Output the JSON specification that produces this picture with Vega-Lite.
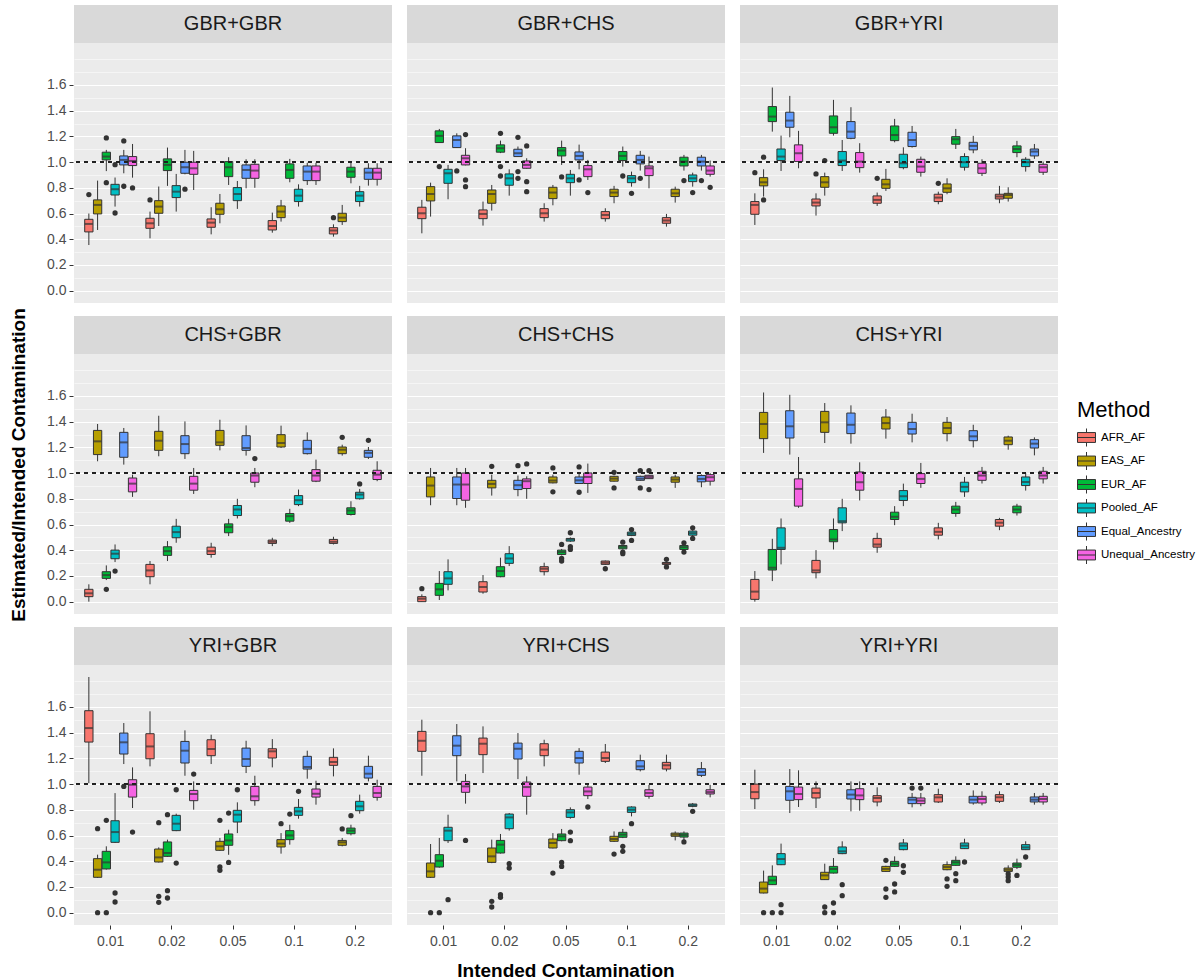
{
"$schema": "https://vega.github.io/schema/vega-lite/v6.json",
"background": "white",
"padding": {"left": 9, "top": 5, "right": 5, "bottom": 5},
"data": {"values": [
{"a":"GBR","b":"GBR","c":"0.01","m":"AFR_AF","lo":0.355,"q1":0.457,"md":0.519,"q3":0.555,"hi":0.6},
{"a":"GBR","b":"GBR","c":"0.01","m":"EAS_AF","lo":0.472,"q1":0.597,"md":0.667,"q3":0.706,"hi":0.856},
{"a":"GBR","b":"GBR","c":"0.01","m":"EUR_AF","lo":0.93,"q1":1.017,"md":1.043,"q3":1.077,"hi":1.095},
{"a":"GBR","b":"GBR","c":"0.01","m":"Pooled_AF","lo":0.654,"q1":0.744,"md":0.789,"q3":0.827,"hi":0.88},
{"a":"GBR","b":"GBR","c":"0.01","m":"Equal_Ancestry","lo":0.913,"q1":0.978,"md":1.017,"q3":1.048,"hi":1.095},
{"a":"GBR","b":"GBR","c":"0.01","m":"Unequal_Ancestry","lo":0.879,"q1":0.973,"md":1.009,"q3":1.043,"hi":1.141},
{"a":"GBR","b":"GBR","c":"0.02","m":"AFR_AF","lo":0.407,"q1":0.485,"md":0.524,"q3":0.563,"hi":0.615},
{"a":"GBR","b":"GBR","c":"0.02","m":"EAS_AF","lo":0.503,"q1":0.602,"md":0.654,"q3":0.7,"hi":0.81},
{"a":"GBR","b":"GBR","c":"0.02","m":"EUR_AF","lo":0.815,"q1":0.934,"md":0.978,"q3":1.025,"hi":1.113},
{"a":"GBR","b":"GBR","c":"0.02","m":"Pooled_AF","lo":0.615,"q1":0.724,"md":0.77,"q3":0.817,"hi":0.908},
{"a":"GBR","b":"GBR","c":"0.02","m":"Equal_Ancestry","lo":0.905,"q1":0.913,"md":0.96,"q3":0.999,"hi":1.095},
{"a":"GBR","b":"GBR","c":"0.02","m":"Unequal_Ancestry","lo":0.783,"q1":0.905,"md":0.952,"q3":0.999,"hi":1.087},
{"a":"GBR","b":"GBR","c":"0.05","m":"AFR_AF","lo":0.438,"q1":0.493,"md":0.529,"q3":0.558,"hi":0.649},
{"a":"GBR","b":"GBR","c":"0.05","m":"EAS_AF","lo":0.524,"q1":0.594,"md":0.633,"q3":0.68,"hi":0.752},
{"a":"GBR","b":"GBR","c":"0.05","m":"EUR_AF","lo":0.822,"q1":0.887,"md":0.96,"q3":1.004,"hi":1.038},
{"a":"GBR","b":"GBR","c":"0.05","m":"Pooled_AF","lo":0.636,"q1":0.7,"md":0.752,"q3":0.802,"hi":0.853},
{"a":"GBR","b":"GBR","c":"0.05","m":"Equal_Ancestry","lo":0.796,"q1":0.874,"md":0.939,"q3":0.978,"hi":1.022},
{"a":"GBR","b":"GBR","c":"0.05","m":"Unequal_Ancestry","lo":0.8,"q1":0.874,"md":0.934,"q3":0.983,"hi":1.022},
{"a":"GBR","b":"GBR","c":"0.1","m":"AFR_AF","lo":0.451,"q1":0.472,"md":0.503,"q3":0.545,"hi":0.607},
{"a":"GBR","b":"GBR","c":"0.1","m":"EAS_AF","lo":0.537,"q1":0.568,"md":0.615,"q3":0.659,"hi":0.706},
{"a":"GBR","b":"GBR","c":"0.1","m":"EUR_AF","lo":0.843,"q1":0.874,"md":0.939,"q3":0.986,"hi":1.025},
{"a":"GBR","b":"GBR","c":"0.1","m":"Pooled_AF","lo":0.654,"q1":0.693,"md":0.739,"q3":0.789,"hi":0.827},
{"a":"GBR","b":"GBR","c":"0.1","m":"Equal_Ancestry","lo":0.822,"q1":0.856,"md":0.926,"q3":0.97,"hi":0.996},
{"a":"GBR","b":"GBR","c":"0.1","m":"Unequal_Ancestry","lo":0.822,"q1":0.856,"md":0.926,"q3":0.97,"hi":0.996},
{"a":"GBR","b":"GBR","c":"0.2","m":"AFR_AF","lo":0.42,"q1":0.441,"md":0.467,"q3":0.49,"hi":0.516},
{"a":"GBR","b":"GBR","c":"0.2","m":"EAS_AF","lo":0.511,"q1":0.537,"md":0.568,"q3":0.602,"hi":0.667},
{"a":"GBR","b":"GBR","c":"0.2","m":"EUR_AF","lo":0.835,"q1":0.882,"md":0.926,"q3":0.96,"hi":0.999},
{"a":"GBR","b":"GBR","c":"0.2","m":"Pooled_AF","lo":0.654,"q1":0.693,"md":0.739,"q3":0.77,"hi":0.815},
{"a":"GBR","b":"GBR","c":"0.2","m":"Equal_Ancestry","lo":0.817,"q1":0.866,"md":0.918,"q3":0.952,"hi":0.991},
{"a":"GBR","b":"GBR","c":"0.2","m":"Unequal_Ancestry","lo":0.817,"q1":0.866,"md":0.918,"q3":0.952,"hi":0.991},
{"a":"GBR","b":"CHS","c":"0.01","m":"AFR_AF","lo":0.446,"q1":0.56,"md":0.602,"q3":0.649,"hi":0.706},
{"a":"GBR","b":"CHS","c":"0.01","m":"EAS_AF","lo":0.576,"q1":0.698,"md":0.752,"q3":0.809,"hi":0.84},
{"a":"GBR","b":"CHS","c":"0.01","m":"EUR_AF","lo":1.15,"q1":1.152,"md":1.204,"q3":1.243,"hi":1.258},
{"a":"GBR","b":"CHS","c":"0.01","m":"Pooled_AF","lo":0.711,"q1":0.835,"md":0.913,"q3":0.944,"hi":0.978},
{"a":"GBR","b":"CHS","c":"0.01","m":"Equal_Ancestry","lo":1.11,"q1":1.113,"md":1.172,"q3":1.204,"hi":1.224},
{"a":"GBR","b":"CHS","c":"0.01","m":"Unequal_Ancestry","lo":0.975,"q1":0.978,"md":1.03,"q3":1.053,"hi":1.108},
{"a":"GBR","b":"CHS","c":"0.02","m":"AFR_AF","lo":0.506,"q1":0.56,"md":0.597,"q3":0.628,"hi":0.693},
{"a":"GBR","b":"CHS","c":"0.02","m":"EAS_AF","lo":0.623,"q1":0.68,"md":0.752,"q3":0.783,"hi":0.822},
{"a":"GBR","b":"CHS","c":"0.02","m":"EUR_AF","lo":1.07,"q1":1.077,"md":1.108,"q3":1.134,"hi":1.167},
{"a":"GBR","b":"CHS","c":"0.02","m":"Pooled_AF","lo":0.739,"q1":0.82,"md":0.874,"q3":0.908,"hi":0.944},
{"a":"GBR","b":"CHS","c":"0.02","m":"Equal_Ancestry","lo":1.04,"q1":1.043,"md":1.069,"q3":1.1,"hi":1.121},
{"a":"GBR","b":"CHS","c":"0.02","m":"Unequal_Ancestry","lo":0.95,"q1":0.952,"md":0.978,"q3":1.009,"hi":1.03},
{"a":"GBR","b":"CHS","c":"0.05","m":"AFR_AF","lo":0.537,"q1":0.568,"md":0.602,"q3":0.638,"hi":0.68},
{"a":"GBR","b":"CHS","c":"0.05","m":"EAS_AF","lo":0.664,"q1":0.716,"md":0.763,"q3":0.804,"hi":0.822},
{"a":"GBR","b":"CHS","c":"0.05","m":"EUR_AF","lo":0.978,"q1":1.048,"md":1.09,"q3":1.113,"hi":1.167},
{"a":"GBR","b":"CHS","c":"0.05","m":"Pooled_AF","lo":0.739,"q1":0.84,"md":0.874,"q3":0.905,"hi":0.939},
{"a":"GBR","b":"CHS","c":"0.05","m":"Equal_Ancestry","lo":0.944,"q1":1.017,"md":1.048,"q3":1.079,"hi":1.136},
{"a":"GBR","b":"CHS","c":"0.05","m":"Unequal_Ancestry","lo":0.861,"q1":0.887,"md":0.944,"q3":0.973,"hi":1.017},
{"a":"GBR","b":"CHS","c":"0.1","m":"AFR_AF","lo":0.537,"q1":0.56,"md":0.589,"q3":0.615,"hi":0.641},
{"a":"GBR","b":"CHS","c":"0.1","m":"EAS_AF","lo":0.68,"q1":0.732,"md":0.763,"q3":0.789,"hi":0.815},
{"a":"GBR","b":"CHS","c":"0.1","m":"EUR_AF","lo":0.965,"q1":1.012,"md":1.048,"q3":1.082,"hi":1.121},
{"a":"GBR","b":"CHS","c":"0.1","m":"Pooled_AF","lo":0.809,"q1":0.84,"md":0.874,"q3":0.895,"hi":0.926},
{"a":"GBR","b":"CHS","c":"0.1","m":"Equal_Ancestry","lo":0.934,"q1":0.986,"md":1.017,"q3":1.053,"hi":1.087},
{"a":"GBR","b":"CHS","c":"0.1","m":"Unequal_Ancestry","lo":0.796,"q1":0.895,"md":0.952,"q3":0.97,"hi":1.043},
{"a":"GBR","b":"CHS","c":"0.2","m":"AFR_AF","lo":0.498,"q1":0.524,"md":0.545,"q3":0.568,"hi":0.597},
{"a":"GBR","b":"CHS","c":"0.2","m":"EAS_AF","lo":0.685,"q1":0.732,"md":0.757,"q3":0.789,"hi":0.809},
{"a":"GBR","b":"CHS","c":"0.2","m":"EUR_AF","lo":0.934,"q1":0.97,"md":1.004,"q3":1.038,"hi":1.056},
{"a":"GBR","b":"CHS","c":"0.2","m":"Pooled_AF","lo":0.809,"q1":0.848,"md":0.874,"q3":0.9,"hi":0.918},
{"a":"GBR","b":"CHS","c":"0.2","m":"Equal_Ancestry","lo":0.934,"q1":0.97,"md":1.004,"q3":1.038,"hi":1.056},
{"a":"GBR","b":"CHS","c":"0.2","m":"Unequal_Ancestry","lo":0.887,"q1":0.905,"md":0.934,"q3":0.97,"hi":1.012},
{"a":"GBR","b":"YRI","c":"0.01","m":"AFR_AF","lo":0.511,"q1":0.594,"md":0.667,"q3":0.693,"hi":0.757},
{"a":"GBR","b":"YRI","c":"0.01","m":"EAS_AF","lo":0.732,"q1":0.815,"md":0.843,"q3":0.879,"hi":0.944},
{"a":"GBR","b":"YRI","c":"0.01","m":"EUR_AF","lo":1.237,"q1":1.315,"md":1.354,"q3":1.432,"hi":1.58},
{"a":"GBR","b":"YRI","c":"0.01","m":"Pooled_AF","lo":0.931,"q1":1.012,"md":1.043,"q3":1.102,"hi":1.206},
{"a":"GBR","b":"YRI","c":"0.01","m":"Equal_Ancestry","lo":1.193,"q1":1.271,"md":1.323,"q3":1.388,"hi":1.515},
{"a":"GBR","b":"YRI","c":"0.01","m":"Unequal_Ancestry","lo":0.952,"q1":1.004,"md":1.069,"q3":1.134,"hi":1.243},
{"a":"GBR","b":"YRI","c":"0.02","m":"AFR_AF","lo":0.584,"q1":0.659,"md":0.685,"q3":0.713,"hi":0.757},
{"a":"GBR","b":"YRI","c":"0.02","m":"EAS_AF","lo":0.739,"q1":0.804,"md":0.843,"q3":0.887,"hi":0.918},
{"a":"GBR","b":"YRI","c":"0.02","m":"EUR_AF","lo":1.206,"q1":1.224,"md":1.271,"q3":1.359,"hi":1.484},
{"a":"GBR","b":"YRI","c":"0.02","m":"Pooled_AF","lo":0.931,"q1":0.973,"md":1.012,"q3":1.082,"hi":1.172},
{"a":"GBR","b":"YRI","c":"0.02","m":"Equal_Ancestry","lo":1.178,"q1":1.185,"md":1.237,"q3":1.315,"hi":1.427},
{"a":"GBR","b":"YRI","c":"0.02","m":"Unequal_Ancestry","lo":0.918,"q1":0.957,"md":1.004,"q3":1.074,"hi":1.147},
{"a":"GBR","b":"YRI","c":"0.05","m":"AFR_AF","lo":0.659,"q1":0.68,"md":0.706,"q3":0.737,"hi":0.763},
{"a":"GBR","b":"YRI","c":"0.05","m":"EAS_AF","lo":0.776,"q1":0.796,"md":0.827,"q3":0.866,"hi":0.947},
{"a":"GBR","b":"YRI","c":"0.05","m":"EUR_AF","lo":1.154,"q1":1.167,"md":1.211,"q3":1.281,"hi":1.336},
{"a":"GBR","b":"YRI","c":"0.05","m":"Pooled_AF","lo":0.944,"q1":0.957,"md":0.991,"q3":1.061,"hi":1.115},
{"a":"GBR","b":"YRI","c":"0.05","m":"Equal_Ancestry","lo":1.113,"q1":1.121,"md":1.172,"q3":1.232,"hi":1.281},
{"a":"GBR","b":"YRI","c":"0.05","m":"Unequal_Ancestry","lo":0.887,"q1":0.921,"md":0.965,"q3":1.022,"hi":1.043},
{"a":"GBR","b":"YRI","c":"0.1","m":"AFR_AF","lo":0.672,"q1":0.693,"md":0.724,"q3":0.75,"hi":0.77},
{"a":"GBR","b":"YRI","c":"0.1","m":"EAS_AF","lo":0.75,"q1":0.765,"md":0.796,"q3":0.83,"hi":0.874},
{"a":"GBR","b":"YRI","c":"0.1","m":"EUR_AF","lo":1.102,"q1":1.139,"md":1.178,"q3":1.198,"hi":1.258},
{"a":"GBR","b":"YRI","c":"0.1","m":"Pooled_AF","lo":0.934,"q1":0.96,"md":0.999,"q3":1.043,"hi":1.069},
{"a":"GBR","b":"YRI","c":"0.1","m":"Equal_Ancestry","lo":1.069,"q1":1.095,"md":1.126,"q3":1.154,"hi":1.204},
{"a":"GBR","b":"YRI","c":"0.1","m":"Unequal_Ancestry","lo":0.892,"q1":0.913,"md":0.952,"q3":0.991,"hi":1.022},
{"a":"GBR","b":"YRI","c":"0.2","m":"AFR_AF","lo":0.68,"q1":0.713,"md":0.732,"q3":0.75,"hi":0.815},
{"a":"GBR","b":"YRI","c":"0.2","m":"EAS_AF","lo":0.693,"q1":0.719,"md":0.744,"q3":0.757,"hi":0.804},
{"a":"GBR","b":"YRI","c":"0.2","m":"EUR_AF","lo":1.038,"q1":1.074,"md":1.102,"q3":1.126,"hi":1.165},
{"a":"GBR","b":"YRI","c":"0.2","m":"Pooled_AF","lo":0.926,"q1":0.965,"md":0.999,"q3":1.022,"hi":1.038},
{"a":"GBR","b":"YRI","c":"0.2","m":"Equal_Ancestry","lo":1.025,"q1":1.048,"md":1.082,"q3":1.102,"hi":1.141},
{"a":"GBR","b":"YRI","c":"0.2","m":"Unequal_Ancestry","lo":0.9,"q1":0.921,"md":0.96,"q3":0.983,"hi":1.004},
{"a":"CHS","b":"GBR","c":"0.01","m":"AFR_AF","lo":0.0,"q1":0.039,"md":0.065,"q3":0.096,"hi":0.135},
{"a":"CHS","b":"GBR","c":"0.01","m":"EAS_AF","lo":1.092,"q1":1.144,"md":1.247,"q3":1.332,"hi":1.382},
{"a":"CHS","b":"GBR","c":"0.01","m":"EUR_AF","lo":0.168,"q1":0.181,"md":0.207,"q3":0.233,"hi":0.282},
{"a":"CHS","b":"GBR","c":"0.01","m":"Pooled_AF","lo":0.308,"q1":0.334,"md":0.373,"q3":0.401,"hi":0.445},
{"a":"CHS","b":"GBR","c":"0.01","m":"Equal_Ancestry","lo":1.066,"q1":1.123,"md":1.239,"q3":1.317,"hi":1.351},
{"a":"CHS","b":"GBR","c":"0.01","m":"Unequal_Ancestry","lo":0.815,"q1":0.854,"md":0.918,"q3":0.962,"hi":0.988},
{"a":"CHS","b":"GBR","c":"0.02","m":"AFR_AF","lo":0.135,"q1":0.194,"md":0.243,"q3":0.29,"hi":0.316},
{"a":"CHS","b":"GBR","c":"0.02","m":"EAS_AF","lo":1.131,"q1":1.177,"md":1.252,"q3":1.325,"hi":1.446},
{"a":"CHS","b":"GBR","c":"0.02","m":"EUR_AF","lo":0.316,"q1":0.36,"md":0.393,"q3":0.427,"hi":0.471},
{"a":"CHS","b":"GBR","c":"0.02","m":"Pooled_AF","lo":0.458,"q1":0.497,"md":0.541,"q3":0.587,"hi":0.644},
{"a":"CHS","b":"GBR","c":"0.02","m":"Equal_Ancestry","lo":1.11,"q1":1.151,"md":1.226,"q3":1.291,"hi":1.402},
{"a":"CHS","b":"GBR","c":"0.02","m":"Unequal_Ancestry","lo":0.838,"q1":0.867,"md":0.918,"q3":0.975,"hi":1.04},
{"a":"CHS","b":"GBR","c":"0.05","m":"AFR_AF","lo":0.342,"q1":0.367,"md":0.393,"q3":0.424,"hi":0.458},
{"a":"CHS","b":"GBR","c":"0.05","m":"EAS_AF","lo":1.177,"q1":1.216,"md":1.239,"q3":1.332,"hi":1.415},
{"a":"CHS","b":"GBR","c":"0.05","m":"EUR_AF","lo":0.51,"q1":0.536,"md":0.58,"q3":0.605,"hi":0.644},
{"a":"CHS","b":"GBR","c":"0.05","m":"Pooled_AF","lo":0.647,"q1":0.67,"md":0.717,"q3":0.748,"hi":0.8},
{"a":"CHS","b":"GBR","c":"0.05","m":"Equal_Ancestry","lo":1.136,"q1":1.177,"md":1.195,"q3":1.291,"hi":1.371},
{"a":"CHS","b":"GBR","c":"0.05","m":"Unequal_Ancestry","lo":0.89,"q1":0.929,"md":0.981,"q3":1.001,"hi":1.04},
{"a":"CHS","b":"GBR","c":"0.1","m":"AFR_AF","lo":0.432,"q1":0.453,"md":0.466,"q3":0.479,"hi":0.497},
{"a":"CHS","b":"GBR","c":"0.1","m":"EAS_AF","lo":1.195,"q1":1.203,"md":1.234,"q3":1.299,"hi":1.369},
{"a":"CHS","b":"GBR","c":"0.1","m":"EUR_AF","lo":0.613,"q1":0.626,"md":0.665,"q3":0.686,"hi":0.722},
{"a":"CHS","b":"GBR","c":"0.1","m":"Pooled_AF","lo":0.743,"q1":0.755,"md":0.789,"q3":0.825,"hi":0.872},
{"a":"CHS","b":"GBR","c":"0.1","m":"Equal_Ancestry","lo":1.145,"q1":1.151,"md":1.188,"q3":1.255,"hi":1.317},
{"a":"CHS","b":"GBR","c":"0.1","m":"Unequal_Ancestry","lo":0.93,"q1":0.937,"md":0.981,"q3":1.027,"hi":1.105},
{"a":"CHS","b":"GBR","c":"0.2","m":"AFR_AF","lo":0.445,"q1":0.453,"md":0.466,"q3":0.484,"hi":0.505},
{"a":"CHS","b":"GBR","c":"0.2","m":"EAS_AF","lo":1.136,"q1":1.151,"md":1.182,"q3":1.203,"hi":1.221},
{"a":"CHS","b":"GBR","c":"0.2","m":"EUR_AF","lo":0.67,"q1":0.678,"md":0.709,"q3":0.73,"hi":0.781},
{"a":"CHS","b":"GBR","c":"0.2","m":"Pooled_AF","lo":0.794,"q1":0.8,"md":0.833,"q3":0.851,"hi":0.877},
{"a":"CHS","b":"GBR","c":"0.2","m":"Equal_Ancestry","lo":1.11,"q1":1.123,"md":1.157,"q3":1.177,"hi":1.203},
{"a":"CHS","b":"GBR","c":"0.2","m":"Unequal_Ancestry","lo":0.937,"q1":0.95,"md":0.988,"q3":1.022,"hi":1.092},
{"a":"CHS","b":"CHS","c":"0.01","m":"AFR_AF","lo":0.0,"q1":0.0,"md":0.023,"q3":0.039,"hi":0.057},
{"a":"CHS","b":"CHS","c":"0.01","m":"EAS_AF","lo":0.75,"q1":0.815,"md":0.903,"q3":0.97,"hi":1.04},
{"a":"CHS","b":"CHS","c":"0.01","m":"EUR_AF","lo":0.013,"q1":0.049,"md":0.096,"q3":0.142,"hi":0.238},
{"a":"CHS","b":"CHS","c":"0.01","m":"Pooled_AF","lo":0.088,"q1":0.135,"md":0.181,"q3":0.233,"hi":0.329},
{"a":"CHS","b":"CHS","c":"0.01","m":"Equal_Ancestry","lo":0.75,"q1":0.802,"md":0.911,"q3":0.97,"hi":1.04},
{"a":"CHS","b":"CHS","c":"0.01","m":"Unequal_Ancestry","lo":0.73,"q1":0.789,"md":0.911,"q3":1.001,"hi":1.04},
{"a":"CHS","b":"CHS","c":"0.02","m":"AFR_AF","lo":0.062,"q1":0.075,"md":0.114,"q3":0.155,"hi":0.207},
{"a":"CHS","b":"CHS","c":"0.02","m":"EAS_AF","lo":0.825,"q1":0.885,"md":0.916,"q3":0.944,"hi":0.988},
{"a":"CHS","b":"CHS","c":"0.02","m":"EUR_AF","lo":0.19,"q1":0.194,"md":0.238,"q3":0.272,"hi":0.342},
{"a":"CHS","b":"CHS","c":"0.02","m":"Pooled_AF","lo":0.277,"q1":0.298,"md":0.336,"q3":0.373,"hi":0.432},
{"a":"CHS","b":"CHS","c":"0.02","m":"Equal_Ancestry","lo":0.82,"q1":0.872,"md":0.906,"q3":0.944,"hi":0.981},
{"a":"CHS","b":"CHS","c":"0.02","m":"Unequal_Ancestry","lo":0.8,"q1":0.88,"md":0.937,"q3":0.955,"hi":0.975},
{"a":"CHS","b":"CHS","c":"0.05","m":"AFR_AF","lo":0.204,"q1":0.233,"md":0.256,"q3":0.272,"hi":0.303},
{"a":"CHS","b":"CHS","c":"0.05","m":"EAS_AF","lo":0.92,"q1":0.924,"md":0.942,"q3":0.97,"hi":0.988},
{"a":"CHS","b":"CHS","c":"0.05","m":"EUR_AF","lo":0.36,"q1":0.367,"md":0.386,"q3":0.401,"hi":0.41},
{"a":"CHS","b":"CHS","c":"0.05","m":"Pooled_AF","lo":0.465,"q1":0.471,"md":0.484,"q3":0.492,"hi":0.5},
{"a":"CHS","b":"CHS","c":"0.05","m":"Equal_Ancestry","lo":0.915,"q1":0.919,"md":0.944,"q3":0.97,"hi":1.0},
{"a":"CHS","b":"CHS","c":"0.05","m":"Unequal_Ancestry","lo":0.846,"q1":0.919,"md":0.97,"q3":1.001,"hi":1.074},
{"a":"CHS","b":"CHS","c":"0.1","m":"AFR_AF","lo":0.285,"q1":0.29,"md":0.303,"q3":0.316,"hi":0.32},
{"a":"CHS","b":"CHS","c":"0.1","m":"EAS_AF","lo":0.935,"q1":0.937,"md":0.957,"q3":0.975,"hi":0.98},
{"a":"CHS","b":"CHS","c":"0.1","m":"EUR_AF","lo":0.405,"q1":0.411,"md":0.427,"q3":0.437,"hi":0.44},
{"a":"CHS","b":"CHS","c":"0.1","m":"Pooled_AF","lo":0.51,"q1":0.515,"md":0.528,"q3":0.541,"hi":0.545},
{"a":"CHS","b":"CHS","c":"0.1","m":"Equal_Ancestry","lo":0.94,"q1":0.944,"md":0.957,"q3":0.975,"hi":0.98},
{"a":"CHS","b":"CHS","c":"0.1","m":"Unequal_Ancestry","lo":0.955,"q1":0.957,"md":0.97,"q3":0.983,"hi":0.986},
{"a":"CHS","b":"CHS","c":"0.2","m":"AFR_AF","lo":0.285,"q1":0.29,"md":0.298,"q3":0.305,"hi":0.31},
{"a":"CHS","b":"CHS","c":"0.2","m":"EAS_AF","lo":0.885,"q1":0.929,"md":0.95,"q3":0.97,"hi":0.988},
{"a":"CHS","b":"CHS","c":"0.2","m":"EUR_AF","lo":0.4,"q1":0.406,"md":0.424,"q3":0.437,"hi":0.442},
{"a":"CHS","b":"CHS","c":"0.2","m":"Pooled_AF","lo":0.51,"q1":0.517,"md":0.533,"q3":0.549,"hi":0.555},
{"a":"CHS","b":"CHS","c":"0.2","m":"Equal_Ancestry","lo":0.89,"q1":0.932,"md":0.955,"q3":0.981,"hi":0.99},
{"a":"CHS","b":"CHS","c":"0.2","m":"Unequal_Ancestry","lo":0.903,"q1":0.937,"md":0.968,"q3":0.988,"hi":1.0},
{"a":"CHS","b":"YRI","c":"0.01","m":"AFR_AF","lo":0.0,"q1":0.018,"md":0.078,"q3":0.173,"hi":0.238},
{"a":"CHS","b":"YRI","c":"0.01","m":"EAS_AF","lo":1.157,"q1":1.268,"md":1.382,"q3":1.472,"hi":1.627},
{"a":"CHS","b":"YRI","c":"0.01","m":"EUR_AF","lo":0.16,"q1":0.246,"md":0.264,"q3":0.406,"hi":0.489},
{"a":"CHS","b":"YRI","c":"0.01","m":"Pooled_AF","lo":0.29,"q1":0.406,"md":0.419,"q3":0.574,"hi":0.647},
{"a":"CHS","b":"YRI","c":"0.01","m":"Equal_Ancestry","lo":1.144,"q1":1.273,"md":1.364,"q3":1.485,"hi":1.609},
{"a":"CHS","b":"YRI","c":"0.01","m":"Unequal_Ancestry","lo":0.73,"q1":0.743,"md":0.877,"q3":0.955,"hi":1.125},
{"a":"CHS","b":"YRI","c":"0.02","m":"AFR_AF","lo":0.181,"q1":0.225,"md":0.243,"q3":0.321,"hi":0.401},
{"a":"CHS","b":"YRI","c":"0.02","m":"EAS_AF","lo":1.234,"q1":1.317,"md":1.395,"q3":1.48,"hi":1.545},
{"a":"CHS","b":"YRI","c":"0.02","m":"EUR_AF","lo":0.406,"q1":0.466,"md":0.484,"q3":0.561,"hi":0.647},
{"a":"CHS","b":"YRI","c":"0.02","m":"Pooled_AF","lo":0.549,"q1":0.613,"md":0.626,"q3":0.73,"hi":0.8},
{"a":"CHS","b":"YRI","c":"0.02","m":"Equal_Ancestry","lo":1.229,"q1":1.307,"md":1.376,"q3":1.467,"hi":1.527},
{"a":"CHS","b":"YRI","c":"0.02","m":"Unequal_Ancestry","lo":0.787,"q1":0.867,"md":0.929,"q3":1.009,"hi":1.084},
{"a":"CHS","b":"YRI","c":"0.05","m":"AFR_AF","lo":0.38,"q1":0.424,"md":0.445,"q3":0.492,"hi":0.536},
{"a":"CHS","b":"YRI","c":"0.05","m":"EAS_AF","lo":1.268,"q1":1.343,"md":1.389,"q3":1.436,"hi":1.498},
{"a":"CHS","b":"YRI","c":"0.05","m":"EUR_AF","lo":0.595,"q1":0.639,"md":0.66,"q3":0.696,"hi":0.743},
{"a":"CHS","b":"YRI","c":"0.05","m":"Pooled_AF","lo":0.743,"q1":0.787,"md":0.82,"q3":0.864,"hi":0.918},
{"a":"CHS","b":"YRI","c":"0.05","m":"Equal_Ancestry","lo":1.239,"q1":1.304,"md":1.343,"q3":1.395,"hi":1.462},
{"a":"CHS","b":"YRI","c":"0.05","m":"Unequal_Ancestry","lo":0.885,"q1":0.919,"md":0.955,"q3":0.996,"hi":1.079},
{"a":"CHS","b":"YRI","c":"0.1","m":"AFR_AF","lo":0.484,"q1":0.517,"md":0.543,"q3":0.574,"hi":0.613},
{"a":"CHS","b":"YRI","c":"0.1","m":"EAS_AF","lo":1.247,"q1":1.307,"md":1.351,"q3":1.395,"hi":1.436},
{"a":"CHS","b":"YRI","c":"0.1","m":"EUR_AF","lo":0.66,"q1":0.686,"md":0.717,"q3":0.743,"hi":0.776},
{"a":"CHS","b":"YRI","c":"0.1","m":"Pooled_AF","lo":0.815,"q1":0.854,"md":0.893,"q3":0.929,"hi":0.97},
{"a":"CHS","b":"YRI","c":"0.1","m":"Equal_Ancestry","lo":1.2,"q1":1.252,"md":1.286,"q3":1.33,"hi":1.376},
{"a":"CHS","b":"YRI","c":"0.1","m":"Unequal_Ancestry","lo":0.919,"q1":0.944,"md":0.981,"q3":1.014,"hi":1.048},
{"a":"CHS","b":"YRI","c":"0.2","m":"AFR_AF","lo":0.556,"q1":0.587,"md":0.613,"q3":0.639,"hi":0.652},
{"a":"CHS","b":"YRI","c":"0.2","m":"EAS_AF","lo":1.182,"q1":1.221,"md":1.252,"q3":1.281,"hi":1.291},
{"a":"CHS","b":"YRI","c":"0.2","m":"EUR_AF","lo":0.67,"q1":0.691,"md":0.717,"q3":0.743,"hi":0.761},
{"a":"CHS","b":"YRI","c":"0.2","m":"Pooled_AF","lo":0.864,"q1":0.903,"md":0.931,"q3":0.97,"hi":1.001},
{"a":"CHS","b":"YRI","c":"0.2","m":"Equal_Ancestry","lo":1.138,"q1":1.195,"md":1.229,"q3":1.26,"hi":1.278},
{"a":"CHS","b":"YRI","c":"0.2","m":"Unequal_Ancestry","lo":0.919,"q1":0.955,"md":0.981,"q3":1.014,"hi":1.048},
{"a":"YRI","b":"GBR","c":"0.01","m":"AFR_AF","lo":1.008,"q1":1.327,"md":1.436,"q3":1.571,"hi":1.833},
{"a":"YRI","b":"GBR","c":"0.01","m":"EAS_AF","lo":0.27,"q1":0.275,"md":0.334,"q3":0.42,"hi":0.451},
{"a":"YRI","b":"GBR","c":"0.01","m":"EUR_AF","lo":0.335,"q1":0.34,"md":0.391,"q3":0.477,"hi":0.516},
{"a":"YRI","b":"GBR","c":"0.01","m":"Pooled_AF","lo":0.542,"q1":0.547,"md":0.627,"q3":0.715,"hi":0.93},
{"a":"YRI","b":"GBR","c":"0.01","m":"Equal_Ancestry","lo":1.156,"q1":1.234,"md":1.325,"q3":1.397,"hi":1.475},
{"a":"YRI","b":"GBR","c":"0.01","m":"Unequal_Ancestry","lo":0.814,"q1":0.899,"md":0.995,"q3":1.034,"hi":1.13},
{"a":"YRI","b":"GBR","c":"0.02","m":"AFR_AF","lo":1.138,"q1":1.197,"md":1.293,"q3":1.392,"hi":1.566},
{"a":"YRI","b":"GBR","c":"0.02","m":"EAS_AF","lo":0.39,"q1":0.394,"md":0.43,"q3":0.495,"hi":0.508},
{"a":"YRI","b":"GBR","c":"0.02","m":"EUR_AF","lo":0.434,"q1":0.438,"md":0.464,"q3":0.55,"hi":0.568},
{"a":"YRI","b":"GBR","c":"0.02","m":"Pooled_AF","lo":0.634,"q1":0.638,"md":0.692,"q3":0.757,"hi":0.77},
{"a":"YRI","b":"GBR","c":"0.02","m":"Equal_Ancestry","lo":1.065,"q1":1.164,"md":1.26,"q3":1.332,"hi":1.418},
{"a":"YRI","b":"GBR","c":"0.02","m":"Unequal_Ancestry","lo":0.801,"q1":0.871,"md":0.923,"q3":0.951,"hi":1.021},
{"a":"YRI","b":"GBR","c":"0.05","m":"AFR_AF","lo":1.156,"q1":1.221,"md":1.273,"q3":1.345,"hi":1.384},
{"a":"YRI","b":"GBR","c":"0.05","m":"EAS_AF","lo":0.48,"q1":0.485,"md":0.516,"q3":0.555,"hi":0.581},
{"a":"YRI","b":"GBR","c":"0.05","m":"EUR_AF","lo":0.45,"q1":0.524,"md":0.562,"q3":0.612,"hi":0.645},
{"a":"YRI","b":"GBR","c":"0.05","m":"Pooled_AF","lo":0.619,"q1":0.705,"md":0.762,"q3":0.796,"hi":0.858},
{"a":"YRI","b":"GBR","c":"0.05","m":"Equal_Ancestry","lo":1.086,"q1":1.138,"md":1.195,"q3":1.28,"hi":1.337},
{"a":"YRI","b":"GBR","c":"0.05","m":"Unequal_Ancestry","lo":0.832,"q1":0.871,"md":0.905,"q3":0.982,"hi":1.065},
{"a":"YRI","b":"GBR","c":"0.1","m":"AFR_AF","lo":1.13,"q1":1.203,"md":1.255,"q3":1.275,"hi":1.35},
{"a":"YRI","b":"GBR","c":"0.1","m":"EAS_AF","lo":0.459,"q1":0.511,"md":0.537,"q3":0.568,"hi":0.619},
{"a":"YRI","b":"GBR","c":"0.1","m":"EUR_AF","lo":0.529,"q1":0.568,"md":0.601,"q3":0.638,"hi":0.684},
{"a":"YRI","b":"GBR","c":"0.1","m":"Pooled_AF","lo":0.731,"q1":0.757,"md":0.788,"q3":0.819,"hi":0.884},
{"a":"YRI","b":"GBR","c":"0.1","m":"Equal_Ancestry","lo":1.042,"q1":1.117,"md":1.133,"q3":1.216,"hi":1.26},
{"a":"YRI","b":"GBR","c":"0.1","m":"Unequal_Ancestry","lo":0.84,"q1":0.899,"md":0.925,"q3":0.962,"hi":1.026},
{"a":"YRI","b":"GBR","c":"0.2","m":"AFR_AF","lo":1.06,"q1":1.146,"md":1.172,"q3":1.208,"hi":1.278},
{"a":"YRI","b":"GBR","c":"0.2","m":"EAS_AF","lo":0.516,"q1":0.524,"md":0.547,"q3":0.562,"hi":0.581},
{"a":"YRI","b":"GBR","c":"0.2","m":"EUR_AF","lo":0.601,"q1":0.614,"md":0.638,"q3":0.658,"hi":0.684},
{"a":"YRI","b":"GBR","c":"0.2","m":"Pooled_AF","lo":0.77,"q1":0.793,"md":0.827,"q3":0.866,"hi":0.918},
{"a":"YRI","b":"GBR","c":"0.2","m":"Equal_Ancestry","lo":1.021,"q1":1.047,"md":1.081,"q3":1.138,"hi":1.221},
{"a":"YRI","b":"GBR","c":"0.2","m":"Unequal_Ancestry","lo":0.871,"q1":0.897,"md":0.931,"q3":0.982,"hi":1.034},
{"a":"YRI","b":"CHS","c":"0.01","m":"AFR_AF","lo":1.065,"q1":1.255,"md":1.337,"q3":1.41,"hi":1.501},
{"a":"YRI","b":"CHS","c":"0.01","m":"EAS_AF","lo":0.27,"q1":0.275,"md":0.321,"q3":0.386,"hi":0.534},
{"a":"YRI","b":"CHS","c":"0.01","m":"EUR_AF","lo":0.35,"q1":0.355,"md":0.404,"q3":0.451,"hi":0.581},
{"a":"YRI","b":"CHS","c":"0.01","m":"Pooled_AF","lo":0.542,"q1":0.56,"md":0.638,"q3":0.664,"hi":0.762},
{"a":"YRI","b":"CHS","c":"0.01","m":"Equal_Ancestry","lo":1.021,"q1":1.221,"md":1.299,"q3":1.376,"hi":1.467},
{"a":"YRI","b":"CHS","c":"0.01","m":"Unequal_Ancestry","lo":0.848,"q1":0.936,"md":0.982,"q3":1.021,"hi":1.078},
{"a":"YRI","b":"CHS","c":"0.02","m":"AFR_AF","lo":1.086,"q1":1.229,"md":1.314,"q3":1.358,"hi":1.449},
{"a":"YRI","b":"CHS","c":"0.02","m":"EAS_AF","lo":0.385,"q1":0.391,"md":0.438,"q3":0.503,"hi":0.568},
{"a":"YRI","b":"CHS","c":"0.02","m":"EUR_AF","lo":0.46,"q1":0.464,"md":0.529,"q3":0.562,"hi":0.612},
{"a":"YRI","b":"CHS","c":"0.02","m":"Pooled_AF","lo":0.638,"q1":0.653,"md":0.741,"q3":0.767,"hi":0.775},
{"a":"YRI","b":"CHS","c":"0.02","m":"Equal_Ancestry","lo":1.039,"q1":1.195,"md":1.275,"q3":1.319,"hi":1.397},
{"a":"YRI","b":"CHS","c":"0.02","m":"Unequal_Ancestry","lo":0.762,"q1":0.905,"md":0.977,"q3":1.016,"hi":1.06},
{"a":"YRI","b":"CHS","c":"0.05","m":"AFR_AF","lo":1.138,"q1":1.221,"md":1.268,"q3":1.314,"hi":1.345},
{"a":"YRI","b":"CHS","c":"0.05","m":"EAS_AF","lo":0.5,"q1":0.503,"md":0.542,"q3":0.573,"hi":0.619},
{"a":"YRI","b":"CHS","c":"0.05","m":"EUR_AF","lo":0.555,"q1":0.56,"md":0.594,"q3":0.612,"hi":0.651},
{"a":"YRI","b":"CHS","c":"0.05","m":"Pooled_AF","lo":0.731,"q1":0.741,"md":0.78,"q3":0.801,"hi":0.819},
{"a":"YRI","b":"CHS","c":"0.05","m":"Equal_Ancestry","lo":1.073,"q1":1.164,"md":1.203,"q3":1.255,"hi":1.28},
{"a":"YRI","b":"CHS","c":"0.05","m":"Unequal_Ancestry","lo":0.884,"q1":0.91,"md":0.943,"q3":0.977,"hi":1.0},
{"a":"YRI","b":"CHS","c":"0.1","m":"AFR_AF","lo":1.164,"q1":1.177,"md":1.203,"q3":1.249,"hi":1.312},
{"a":"YRI","b":"CHS","c":"0.1","m":"EAS_AF","lo":0.55,"q1":0.555,"md":0.573,"q3":0.594,"hi":0.632},
{"a":"YRI","b":"CHS","c":"0.1","m":"EUR_AF","lo":0.58,"q1":0.586,"md":0.607,"q3":0.625,"hi":0.651},
{"a":"YRI","b":"CHS","c":"0.1","m":"Pooled_AF","lo":0.749,"q1":0.78,"md":0.801,"q3":0.822,"hi":0.827},
{"a":"YRI","b":"CHS","c":"0.1","m":"Equal_Ancestry","lo":1.099,"q1":1.112,"md":1.138,"q3":1.182,"hi":1.229},
{"a":"YRI","b":"CHS","c":"0.1","m":"Unequal_Ancestry","lo":0.886,"q1":0.905,"md":0.931,"q3":0.956,"hi":0.995},
{"a":"YRI","b":"CHS","c":"0.2","m":"AFR_AF","lo":1.099,"q1":1.117,"md":1.146,"q3":1.169,"hi":1.229},
{"a":"YRI","b":"CHS","c":"0.2","m":"EAS_AF","lo":0.562,"q1":0.594,"md":0.607,"q3":0.619,"hi":0.632},
{"a":"YRI","b":"CHS","c":"0.2","m":"EUR_AF","lo":0.562,"q1":0.588,"md":0.604,"q3":0.619,"hi":0.632},
{"a":"YRI","b":"CHS","c":"0.2","m":"Pooled_AF","lo":0.82,"q1":0.827,"md":0.835,"q3":0.845,"hi":0.853},
{"a":"YRI","b":"CHS","c":"0.2","m":"Equal_Ancestry","lo":1.055,"q1":1.068,"md":1.094,"q3":1.12,"hi":1.172},
{"a":"YRI","b":"CHS","c":"0.2","m":"Unequal_Ancestry","lo":0.897,"q1":0.923,"md":0.938,"q3":0.956,"hi":0.995},
{"a":"YRI","b":"YRI","c":"0.01","m":"AFR_AF","lo":0.806,"q1":0.886,"md":0.938,"q3":1.0,"hi":1.112},
{"a":"YRI","b":"YRI","c":"0.01","m":"EAS_AF","lo":0.15,"q1":0.153,"md":0.187,"q3":0.238,"hi":0.327},
{"a":"YRI","b":"YRI","c":"0.01","m":"EUR_AF","lo":0.215,"q1":0.218,"md":0.251,"q3":0.283,"hi":0.368},
{"a":"YRI","b":"YRI","c":"0.01","m":"Pooled_AF","lo":0.37,"q1":0.373,"md":0.417,"q3":0.459,"hi":0.537},
{"a":"YRI","b":"YRI","c":"0.01","m":"Equal_Ancestry","lo":0.775,"q1":0.874,"md":0.944,"q3":0.982,"hi":1.117},
{"a":"YRI","b":"YRI","c":"0.01","m":"Unequal_Ancestry","lo":0.822,"q1":0.879,"md":0.923,"q3":0.977,"hi":1.107},
{"a":"YRI","b":"YRI","c":"0.02","m":"AFR_AF","lo":0.814,"q1":0.892,"md":0.931,"q3":0.969,"hi":1.021},
{"a":"YRI","b":"YRI","c":"0.02","m":"EAS_AF","lo":0.255,"q1":0.257,"md":0.29,"q3":0.314,"hi":0.381},
{"a":"YRI","b":"YRI","c":"0.02","m":"EUR_AF","lo":0.305,"q1":0.308,"md":0.34,"q3":0.36,"hi":0.425},
{"a":"YRI","b":"YRI","c":"0.02","m":"Pooled_AF","lo":0.455,"q1":0.459,"md":0.477,"q3":0.511,"hi":0.555},
{"a":"YRI","b":"YRI","c":"0.02","m":"Equal_Ancestry","lo":0.788,"q1":0.884,"md":0.918,"q3":0.956,"hi":1.021},
{"a":"YRI","b":"YRI","c":"0.02","m":"Unequal_Ancestry","lo":0.793,"q1":0.879,"md":0.912,"q3":0.964,"hi":1.021},
{"a":"YRI","b":"YRI","c":"0.05","m":"AFR_AF","lo":0.827,"q1":0.861,"md":0.892,"q3":0.91,"hi":0.975},
{"a":"YRI","b":"YRI","c":"0.05","m":"EAS_AF","lo":0.318,"q1":0.321,"md":0.34,"q3":0.36,"hi":0.365},
{"a":"YRI","b":"YRI","c":"0.05","m":"EUR_AF","lo":0.355,"q1":0.36,"md":0.381,"q3":0.399,"hi":0.438},
{"a":"YRI","b":"YRI","c":"0.05","m":"Pooled_AF","lo":0.485,"q1":0.49,"md":0.521,"q3":0.542,"hi":0.573},
{"a":"YRI","b":"YRI","c":"0.05","m":"Equal_Ancestry","lo":0.819,"q1":0.848,"md":0.879,"q3":0.897,"hi":0.931},
{"a":"YRI","b":"YRI","c":"0.05","m":"Unequal_Ancestry","lo":0.828,"q1":0.848,"md":0.871,"q3":0.892,"hi":0.931},
{"a":"YRI","b":"YRI","c":"0.1","m":"AFR_AF","lo":0.853,"q1":0.861,"md":0.897,"q3":0.918,"hi":0.964},
{"a":"YRI","b":"YRI","c":"0.1","m":"EAS_AF","lo":0.33,"q1":0.334,"md":0.355,"q3":0.373,"hi":0.399},
{"a":"YRI","b":"YRI","c":"0.1","m":"EUR_AF","lo":0.365,"q1":0.368,"md":0.391,"q3":0.407,"hi":0.438},
{"a":"YRI","b":"YRI","c":"0.1","m":"Pooled_AF","lo":0.495,"q1":0.498,"md":0.521,"q3":0.542,"hi":0.575},
{"a":"YRI","b":"YRI","c":"0.1","m":"Equal_Ancestry","lo":0.84,"q1":0.853,"md":0.879,"q3":0.905,"hi":0.951},
{"a":"YRI","b":"YRI","c":"0.1","m":"Unequal_Ancestry","lo":0.835,"q1":0.853,"md":0.884,"q3":0.905,"hi":0.944},
{"a":"YRI","b":"YRI","c":"0.2","m":"AFR_AF","lo":0.853,"q1":0.866,"md":0.897,"q3":0.918,"hi":0.944},
{"a":"YRI","b":"YRI","c":"0.2","m":"EAS_AF","lo":0.318,"q1":0.321,"md":0.334,"q3":0.347,"hi":0.368},
{"a":"YRI","b":"YRI","c":"0.2","m":"EUR_AF","lo":0.34,"q1":0.353,"md":0.371,"q3":0.386,"hi":0.42},
{"a":"YRI","b":"YRI","c":"0.2","m":"Pooled_AF","lo":0.487,"q1":0.49,"md":0.508,"q3":0.529,"hi":0.555},
{"a":"YRI","b":"YRI","c":"0.2","m":"Equal_Ancestry","lo":0.84,"q1":0.861,"md":0.879,"q3":0.9,"hi":0.931},
{"a":"YRI","b":"YRI","c":"0.2","m":"Unequal_Ancestry","lo":0.84,"q1":0.861,"md":0.884,"q3":0.905,"hi":0.931},
{"a":"GBR","b":"GBR","c":"0.01","m":"AFR_AF","v":0.747},
{"a":"GBR","b":"GBR","c":"0.01","m":"EUR_AF","v":1.188},
{"a":"GBR","b":"GBR","c":"0.01","m":"EUR_AF","v":0.84},
{"a":"GBR","b":"GBR","c":"0.01","m":"Pooled_AF","v":0.98},
{"a":"GBR","b":"GBR","c":"0.01","m":"Pooled_AF","v":0.604},
{"a":"GBR","b":"GBR","c":"0.01","m":"Equal_Ancestry","v":1.165},
{"a":"GBR","b":"GBR","c":"0.01","m":"Equal_Ancestry","v":0.812},
{"a":"GBR","b":"GBR","c":"0.01","m":"Unequal_Ancestry","v":0.799},
{"a":"GBR","b":"GBR","c":"0.02","m":"AFR_AF","v":0.706},
{"a":"GBR","b":"GBR","c":"0.02","m":"Equal_Ancestry","v":0.789},
{"a":"GBR","b":"GBR","c":"0.2","m":"AFR_AF","v":0.568},
{"a":"GBR","b":"CHS","c":"0.01","m":"EUR_AF","v":0.965},
{"a":"GBR","b":"CHS","c":"0.01","m":"Equal_Ancestry","v":0.931},
{"a":"GBR","b":"CHS","c":"0.01","m":"Unequal_Ancestry","v":1.214},
{"a":"GBR","b":"CHS","c":"0.01","m":"Unequal_Ancestry","v":0.861},
{"a":"GBR","b":"CHS","c":"0.01","m":"Unequal_Ancestry","v":0.809},
{"a":"GBR","b":"CHS","c":"0.02","m":"EUR_AF","v":1.224},
{"a":"GBR","b":"CHS","c":"0.02","m":"EUR_AF","v":0.965},
{"a":"GBR","b":"CHS","c":"0.02","m":"EUR_AF","v":0.892},
{"a":"GBR","b":"CHS","c":"0.02","m":"Equal_Ancestry","v":1.193},
{"a":"GBR","b":"CHS","c":"0.02","m":"Equal_Ancestry","v":0.926},
{"a":"GBR","b":"CHS","c":"0.02","m":"Equal_Ancestry","v":0.874},
{"a":"GBR","b":"CHS","c":"0.02","m":"Unequal_Ancestry","v":1.126},
{"a":"GBR","b":"CHS","c":"0.02","m":"Unequal_Ancestry","v":0.848},
{"a":"GBR","b":"CHS","c":"0.02","m":"Unequal_Ancestry","v":0.77},
{"a":"GBR","b":"CHS","c":"0.05","m":"EUR_AF","v":0.885},
{"a":"GBR","b":"CHS","c":"0.05","m":"Equal_Ancestry","v":0.861},
{"a":"GBR","b":"CHS","c":"0.05","m":"Unequal_Ancestry","v":0.763},
{"a":"GBR","b":"CHS","c":"0.1","m":"EUR_AF","v":0.892},
{"a":"GBR","b":"CHS","c":"0.1","m":"Pooled_AF","v":0.757},
{"a":"GBR","b":"CHS","c":"0.1","m":"Equal_Ancestry","v":0.874},
{"a":"GBR","b":"CHS","c":"0.2","m":"EUR_AF","v":0.856},
{"a":"GBR","b":"CHS","c":"0.2","m":"Pooled_AF","v":0.763},
{"a":"GBR","b":"CHS","c":"0.2","m":"Equal_Ancestry","v":0.856},
{"a":"GBR","b":"CHS","c":"0.2","m":"Unequal_Ancestry","v":0.804},
{"a":"GBR","b":"YRI","c":"0.01","m":"AFR_AF","v":0.918},
{"a":"GBR","b":"YRI","c":"0.01","m":"EAS_AF","v":1.038},
{"a":"GBR","b":"YRI","c":"0.01","m":"EAS_AF","v":0.706},
{"a":"GBR","b":"YRI","c":"0.02","m":"AFR_AF","v":0.908},
{"a":"GBR","b":"YRI","c":"0.02","m":"EAS_AF","v":1.012},
{"a":"GBR","b":"YRI","c":"0.05","m":"AFR_AF","v":0.874},
{"a":"GBR","b":"YRI","c":"0.1","m":"AFR_AF","v":0.835},
{"a":"CHS","b":"GBR","c":"0.01","m":"EUR_AF","v":0.096},
{"a":"CHS","b":"GBR","c":"0.01","m":"Pooled_AF","v":0.238},
{"a":"CHS","b":"GBR","c":"0.05","m":"Unequal_Ancestry","v":1.113},
{"a":"CHS","b":"GBR","c":"0.2","m":"EAS_AF","v":1.278},
{"a":"CHS","b":"GBR","c":"0.2","m":"Pooled_AF","v":0.916},
{"a":"CHS","b":"GBR","c":"0.2","m":"Equal_Ancestry","v":1.255},
{"a":"CHS","b":"CHS","c":"0.01","m":"AFR_AF","v":0.101},
{"a":"CHS","b":"CHS","c":"0.02","m":"EAS_AF","v":1.053},
{"a":"CHS","b":"CHS","c":"0.02","m":"Equal_Ancestry","v":1.058},
{"a":"CHS","b":"CHS","c":"0.02","m":"Unequal_Ancestry","v":1.071},
{"a":"CHS","b":"CHS","c":"0.05","m":"EAS_AF","v":1.04},
{"a":"CHS","b":"CHS","c":"0.05","m":"EAS_AF","v":0.854},
{"a":"CHS","b":"CHS","c":"0.05","m":"EUR_AF","v":0.445},
{"a":"CHS","b":"CHS","c":"0.05","m":"EUR_AF","v":0.336},
{"a":"CHS","b":"CHS","c":"0.05","m":"EUR_AF","v":0.316},
{"a":"CHS","b":"CHS","c":"0.05","m":"Pooled_AF","v":0.536},
{"a":"CHS","b":"CHS","c":"0.05","m":"Pooled_AF","v":0.427},
{"a":"CHS","b":"CHS","c":"0.05","m":"Pooled_AF","v":0.406},
{"a":"CHS","b":"CHS","c":"0.05","m":"Equal_Ancestry","v":1.048},
{"a":"CHS","b":"CHS","c":"0.05","m":"Equal_Ancestry","v":0.851},
{"a":"CHS","b":"CHS","c":"0.1","m":"AFR_AF","v":0.256},
{"a":"CHS","b":"CHS","c":"0.1","m":"EAS_AF","v":1.006},
{"a":"CHS","b":"CHS","c":"0.1","m":"EAS_AF","v":0.885},
{"a":"CHS","b":"CHS","c":"0.1","m":"EUR_AF","v":0.463},
{"a":"CHS","b":"CHS","c":"0.1","m":"EUR_AF","v":0.386},
{"a":"CHS","b":"CHS","c":"0.1","m":"EUR_AF","v":0.373},
{"a":"CHS","b":"CHS","c":"0.1","m":"Pooled_AF","v":0.561},
{"a":"CHS","b":"CHS","c":"0.1","m":"Pooled_AF","v":0.476},
{"a":"CHS","b":"CHS","c":"0.1","m":"Equal_Ancestry","v":1.019},
{"a":"CHS","b":"CHS","c":"0.1","m":"Equal_Ancestry","v":0.885},
{"a":"CHS","b":"CHS","c":"0.1","m":"Unequal_Ancestry","v":1.019},
{"a":"CHS","b":"CHS","c":"0.1","m":"Unequal_Ancestry","v":0.872},
{"a":"CHS","b":"CHS","c":"0.2","m":"AFR_AF","v":0.329},
{"a":"CHS","b":"CHS","c":"0.2","m":"AFR_AF","v":0.27},
{"a":"CHS","b":"CHS","c":"0.2","m":"EUR_AF","v":0.458},
{"a":"CHS","b":"CHS","c":"0.2","m":"EUR_AF","v":0.386},
{"a":"CHS","b":"CHS","c":"0.2","m":"Pooled_AF","v":0.574},
{"a":"CHS","b":"CHS","c":"0.2","m":"Pooled_AF","v":0.492},
{"a":"YRI","b":"GBR","c":"0.01","m":"EAS_AF","v":0.653},
{"a":"YRI","b":"GBR","c":"0.01","m":"EAS_AF","v":0.0},
{"a":"YRI","b":"GBR","c":"0.01","m":"EUR_AF","v":0.718},
{"a":"YRI","b":"GBR","c":"0.01","m":"EUR_AF","v":0.0},
{"a":"YRI","b":"GBR","c":"0.01","m":"Pooled_AF","v":0.153},
{"a":"YRI","b":"GBR","c":"0.01","m":"Pooled_AF","v":0.083},
{"a":"YRI","b":"GBR","c":"0.01","m":"Equal_Ancestry","v":0.982},
{"a":"YRI","b":"GBR","c":"0.01","m":"Unequal_Ancestry","v":0.627},
{"a":"YRI","b":"GBR","c":"0.02","m":"EAS_AF","v":0.7},
{"a":"YRI","b":"GBR","c":"0.02","m":"EAS_AF","v":0.127},
{"a":"YRI","b":"GBR","c":"0.02","m":"EAS_AF","v":0.08},
{"a":"YRI","b":"GBR","c":"0.02","m":"EUR_AF","v":0.762},
{"a":"YRI","b":"GBR","c":"0.02","m":"EUR_AF","v":0.171},
{"a":"YRI","b":"GBR","c":"0.02","m":"EUR_AF","v":0.114},
{"a":"YRI","b":"GBR","c":"0.02","m":"Pooled_AF","v":0.956},
{"a":"YRI","b":"GBR","c":"0.02","m":"Pooled_AF","v":0.386},
{"a":"YRI","b":"GBR","c":"0.02","m":"Unequal_Ancestry","v":1.078},
{"a":"YRI","b":"GBR","c":"0.05","m":"EAS_AF","v":0.718},
{"a":"YRI","b":"GBR","c":"0.05","m":"EAS_AF","v":0.355},
{"a":"YRI","b":"GBR","c":"0.05","m":"EAS_AF","v":0.329},
{"a":"YRI","b":"GBR","c":"0.05","m":"EUR_AF","v":0.775},
{"a":"YRI","b":"GBR","c":"0.05","m":"EUR_AF","v":0.391},
{"a":"YRI","b":"GBR","c":"0.05","m":"Pooled_AF","v":0.956},
{"a":"YRI","b":"GBR","c":"0.1","m":"EAS_AF","v":0.692},
{"a":"YRI","b":"GBR","c":"0.1","m":"EUR_AF","v":0.767},
{"a":"YRI","b":"GBR","c":"0.1","m":"Pooled_AF","v":0.944},
{"a":"YRI","b":"GBR","c":"0.2","m":"EAS_AF","v":0.651},
{"a":"YRI","b":"GBR","c":"0.2","m":"EUR_AF","v":0.754},
{"a":"YRI","b":"CHS","c":"0.01","m":"EAS_AF","v":0.0},
{"a":"YRI","b":"CHS","c":"0.01","m":"EUR_AF","v":0.0},
{"a":"YRI","b":"CHS","c":"0.01","m":"Pooled_AF","v":0.101},
{"a":"YRI","b":"CHS","c":"0.01","m":"Unequal_Ancestry","v":0.562},
{"a":"YRI","b":"CHS","c":"0.02","m":"EAS_AF","v":0.088},
{"a":"YRI","b":"CHS","c":"0.02","m":"EAS_AF","v":0.044},
{"a":"YRI","b":"CHS","c":"0.02","m":"EUR_AF","v":0.14},
{"a":"YRI","b":"CHS","c":"0.02","m":"EUR_AF","v":0.119},
{"a":"YRI","b":"CHS","c":"0.02","m":"Pooled_AF","v":0.381},
{"a":"YRI","b":"CHS","c":"0.02","m":"Pooled_AF","v":0.347},
{"a":"YRI","b":"CHS","c":"0.05","m":"EAS_AF","v":0.308},
{"a":"YRI","b":"CHS","c":"0.05","m":"EUR_AF","v":0.391},
{"a":"YRI","b":"CHS","c":"0.05","m":"EUR_AF","v":0.36},
{"a":"YRI","b":"CHS","c":"0.05","m":"Pooled_AF","v":0.627},
{"a":"YRI","b":"CHS","c":"0.05","m":"Pooled_AF","v":0.56},
{"a":"YRI","b":"CHS","c":"0.05","m":"Unequal_Ancestry","v":0.822},
{"a":"YRI","b":"CHS","c":"0.1","m":"EAS_AF","v":0.456},
{"a":"YRI","b":"CHS","c":"0.1","m":"EUR_AF","v":0.516},
{"a":"YRI","b":"CHS","c":"0.1","m":"EUR_AF","v":0.477},
{"a":"YRI","b":"CHS","c":"0.1","m":"Pooled_AF","v":0.692},
{"a":"YRI","b":"CHS","c":"0.2","m":"EUR_AF","v":0.55},
{"a":"YRI","b":"CHS","c":"0.2","m":"Pooled_AF","v":0.788},
{"a":"YRI","b":"YRI","c":"0.01","m":"EAS_AF","v":0.0},
{"a":"YRI","b":"YRI","c":"0.01","m":"EUR_AF","v":0.0},
{"a":"YRI","b":"YRI","c":"0.01","m":"Pooled_AF","v":0.062},
{"a":"YRI","b":"YRI","c":"0.01","m":"Pooled_AF","v":0.0},
{"a":"YRI","b":"YRI","c":"0.02","m":"EAS_AF","v":0.044},
{"a":"YRI","b":"YRI","c":"0.02","m":"EAS_AF","v":0.0},
{"a":"YRI","b":"YRI","c":"0.02","m":"EUR_AF","v":0.075},
{"a":"YRI","b":"YRI","c":"0.02","m":"EUR_AF","v":0.0},
{"a":"YRI","b":"YRI","c":"0.02","m":"Pooled_AF","v":0.218},
{"a":"YRI","b":"YRI","c":"0.02","m":"Pooled_AF","v":0.132},
{"a":"YRI","b":"YRI","c":"0.05","m":"EAS_AF","v":0.407},
{"a":"YRI","b":"YRI","c":"0.05","m":"EAS_AF","v":0.184},
{"a":"YRI","b":"YRI","c":"0.05","m":"EAS_AF","v":0.119},
{"a":"YRI","b":"YRI","c":"0.05","m":"EUR_AF","v":0.223},
{"a":"YRI","b":"YRI","c":"0.05","m":"EUR_AF","v":0.161},
{"a":"YRI","b":"YRI","c":"0.05","m":"Pooled_AF","v":0.365},
{"a":"YRI","b":"YRI","c":"0.05","m":"Pooled_AF","v":0.314},
{"a":"YRI","b":"YRI","c":"0.05","m":"Equal_Ancestry","v":0.969},
{"a":"YRI","b":"YRI","c":"0.05","m":"Unequal_Ancestry","v":0.969},
{"a":"YRI","b":"YRI","c":"0.1","m":"EAS_AF","v":0.262},
{"a":"YRI","b":"YRI","c":"0.1","m":"EAS_AF","v":0.205},
{"a":"YRI","b":"YRI","c":"0.1","m":"EUR_AF","v":0.303},
{"a":"YRI","b":"YRI","c":"0.1","m":"EUR_AF","v":0.249},
{"a":"YRI","b":"YRI","c":"0.1","m":"Pooled_AF","v":0.394},
{"a":"YRI","b":"YRI","c":"0.2","m":"EAS_AF","v":0.301},
{"a":"YRI","b":"YRI","c":"0.2","m":"EAS_AF","v":0.277},
{"a":"YRI","b":"YRI","c":"0.2","m":"EAS_AF","v":0.249},
{"a":"YRI","b":"YRI","c":"0.2","m":"EUR_AF","v":0.29},
{"a":"YRI","b":"YRI","c":"0.2","m":"Pooled_AF","v":0.433}
]},
"facet": {
  "row": {"field": "a", "type": "nominal", "sort": ["GBR","CHS","YRI"],
    "header": {"title": "Estimated/Intended Contamination", "labels": false, "titleFontSize": 19, "titleFontWeight": "bold", "titleColor": "black", "titleFont": "Liberation Sans", "titlePadding": 7}},
  "column": {"field": "b", "type": "nominal", "sort": ["GBR","CHS","YRI"],
    "header": {"title": "Intended Contamination", "titleOrient": "bottom", "labels": false, "titleFontSize": 19, "titleFontWeight": "bold", "titleColor": "black", "titleFont": "Liberation Sans", "titlePadding": 4}}
},
"spacing": {"row": 13, "column": 13},
"spec": {
  "width": 318,
  "height": 298,
  "layer": [
    {"transform": [{"filter": "isValid(datum.md)"}],
     "mark": {"type": "rule", "color": "#333333", "strokeWidth": 1},
     "encoding": {
       "x": {"field": "c", "type": "nominal", "sort": ["0.01","0.02","0.05","0.1","0.2"], "scale": {"paddingInner": 0.15, "paddingOuter": 0.175}, "axis": {"title": null, "labelAngle": 0, "gridWidth": 1.1, "bandPosition": 0.5, "labelPadding": 5}},
       "xOffset": {"field": "m", "type": "nominal", "sort": ["AFR_AF","EAS_AF","EUR_AF","Pooled_AF","Equal_Ancestry","Unequal_Ancestry"], "scale": {"paddingInner": 0.05, "paddingOuter": 0}},
       "y": {"field": "lo", "type": "quantitative", "scale": {"domain": [-0.096, 2.222], "nice": false, "zero": false},
         "axis": {"title": null, "values": [0,0.1,0.2,0.3,0.4,0.5,0.6,0.7,0.8,0.9,1,1.1,1.2,1.3,1.4,1.5,1.6,1.7,1.8],
           "tickCount": 100, "labelOverlap": false, "labelSeparation": 0,
           "labelExpr": "indexof(['0.0','0.2','0.4','0.6','0.8','1.0','1.2','1.4','1.6'], format(datum.value, '.1f')) >= 0 ? format(datum.value, '.1f') : ''",
           "gridWidth": {"condition": {"test": "indexof(['0.0','0.2','0.4','0.6','0.8','1.0','1.2','1.4','1.6'], format(datum.value, '.1f')) >= 0", "value": 1.1}, "value": 0.5},
           "tickColor": {"condition": {"test": "indexof(['0.0','0.2','0.4','0.6','0.8','1.0','1.2','1.4','1.6'], format(datum.value, '.1f')) >= 0", "value": "#333333"}, "value": "rgba(0,0,0,0)"}}},
       "y2": {"field": "hi"}
     }},
    {"transform": [{"filter": "isValid(datum.md)"}],
     "mark": {"type": "bar", "stroke": "#333333", "strokeWidth": 1},
     "encoding": {
       "x": {"field": "c", "type": "nominal", "sort": ["0.01","0.02","0.05","0.1","0.2"]},
       "xOffset": {"field": "m", "type": "nominal", "sort": ["AFR_AF","EAS_AF","EUR_AF","Pooled_AF","Equal_Ancestry","Unequal_Ancestry"]},
       "y": {"field": "q1", "type": "quantitative", "title": null},
       "y2": {"field": "q3"},
       "color": {"field": "m", "type": "nominal", "sort": ["AFR_AF","EAS_AF","EUR_AF","Pooled_AF","Equal_Ancestry","Unequal_Ancestry"],
         "scale": {"domain": ["AFR_AF","EAS_AF","EUR_AF","Pooled_AF","Equal_Ancestry","Unequal_Ancestry"], "range": ["#F8766D","#B79F00","#00BA38","#00BFC4","#619CFF","#F564E3"]},
         "legend": {"title": "Method", "orient": "none", "legendX": 1003, "legendY": 395, "titleFontSize": 22, "titleFontWeight": "normal", "titleColor": "black", "titlePadding": 6, "labelFontSize": 11.5, "labelColor": "black", "labelOffset": 5, "symbolType": "M-1,-0.55H1V0.55H-1Z M-1,0H1 M0,-0.55V-1 M0,0.55V1", "symbolSize": 324, "symbolStrokeColor": "#333333", "symbolStrokeWidth": 1, "rowPadding": 0.5}}
     }},
    {"transform": [{"filter": "isValid(datum.md)"}],
     "mark": {"type": "tick", "color": "#333333", "thickness": 2, "size": 8},
     "encoding": {
       "x": {"field": "c", "type": "nominal", "sort": ["0.01","0.02","0.05","0.1","0.2"]},
       "xOffset": {"field": "m", "type": "nominal", "sort": ["AFR_AF","EAS_AF","EUR_AF","Pooled_AF","Equal_Ancestry","Unequal_Ancestry"]},
       "y": {"field": "md", "type": "quantitative", "title": null}
     }},
    {"transform": [{"filter": "isValid(datum.v)"}],
     "mark": {"type": "point", "filled": true, "color": "#333333", "size": 28, "opacity": 1},
     "encoding": {
       "x": {"field": "c", "type": "nominal", "sort": ["0.01","0.02","0.05","0.1","0.2"]},
       "xOffset": {"field": "m", "type": "nominal", "sort": ["AFR_AF","EAS_AF","EUR_AF","Pooled_AF","Equal_Ancestry","Unequal_Ancestry"]},
       "y": {"field": "v", "type": "quantitative", "title": null}
     }},
    {"mark": {"type": "rule", "color": "#222222", "strokeWidth": 1, "strokeDash": [4, 4]},
     "encoding": {"y": {"datum": 1, "type": "quantitative", "title": null}}},
    {"transform": [{"filter": "datum.c == '0.01' && datum.m == 'AFR_AF' && isValid(datum.md)"}],
     "mark": {"type": "rect", "color": "#d9d9d9"},
     "encoding": {
       "y": {"datum": 1.927, "type": "quantitative", "title": null},
       "y2": {"datum": 2.222}
     }},
    {"transform": [{"filter": "datum.c == '0.01' && datum.m == 'AFR_AF' && isValid(datum.md)"}, {"calculate": "datum.a + '+' + datum.b", "as": "lab"}],
     "mark": {"type": "text", "fontSize": 20, "color": "#1a1a1a", "font": "Liberation Sans", "baseline": "middle", "align": "center"},
     "encoding": {
       "y": {"datum": 2.075, "type": "quantitative", "title": null},
       "text": {"field": "lab", "type": "nominal"}
     }}
  ]
},
"config": {
  "font": "Liberation Sans",
  "view": {"fill": "#ebebeb", "stroke": null},
  "axis": {"gridColor": "#ffffff", "domain": false, "tickColor": "#333333", "tickSize": 4, "labelColor": "#4d4d4d", "labelFontSize": 14, "labelFont": "Liberation Sans", "labelPadding": 3, "labelOverlap": false},
  "axisY": {"labelOverlap": false}
}
}
